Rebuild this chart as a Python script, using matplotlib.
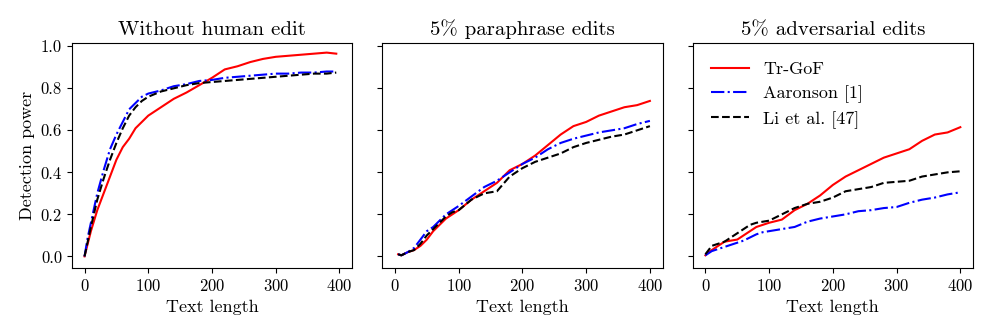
import matplotlib
matplotlib.use("Agg")
import matplotlib.pyplot as plt

plt.rcParams['font.family'] = ['cmr10', 'DejaVu Serif']
plt.rcParams['mathtext.fontset'] = 'cm'
plt.rcParams['axes.formatter.use_mathtext'] = True

titles = ["Without human edit", "5% paraphrase edits", "5% adversarial edits"]
labels = ["Tr-GoF", "Aaronson [1]", "Li et al. [47]"]

# Panel 1
x1 = [0, 5, 10, 20, 30, 40, 50, 60, 70, 80, 90, 100, 120, 140, 160, 180, 200, 220, 240, 260, 280, 300, 320, 340, 360, 380, 395]
red1 = [0, 0.06, 0.12, 0.22, 0.30, 0.38, 0.46, 0.52, 0.56, 0.61, 0.64, 0.67, 0.71, 0.75, 0.78, 0.815, 0.85, 0.89, 0.905, 0.925, 0.94, 0.95, 0.955, 0.96, 0.965, 0.97, 0.965]
blue1 = [0, 0.09, 0.16, 0.30, 0.41, 0.51, 0.58, 0.64, 0.70, 0.73, 0.76, 0.775, 0.79, 0.81, 0.82, 0.835, 0.84, 0.85, 0.855, 0.86, 0.865, 0.87, 0.87, 0.875, 0.875, 0.88, 0.88]
black1 = [0, 0.07, 0.14, 0.27, 0.37, 0.46, 0.54, 0.61, 0.67, 0.71, 0.74, 0.76, 0.785, 0.80, 0.815, 0.825, 0.83, 0.835, 0.84, 0.845, 0.85, 0.855, 0.86, 0.865, 0.87, 0.87, 0.875]

# Panel 2
x2 = [5, 10, 20, 30, 40, 50, 60, 70, 80, 90, 100, 120, 140, 160, 180, 200, 220, 240, 260, 280, 300, 320, 340, 360, 380, 400]
red2 = [0.01, 0.005, 0.02, 0.03, 0.05, 0.08, 0.12, 0.15, 0.18, 0.20, 0.22, 0.27, 0.31, 0.35, 0.41, 0.44, 0.48, 0.53, 0.58, 0.62, 0.64, 0.67, 0.69, 0.71, 0.72, 0.74]
blue2 = [0.01, 0.005, 0.02, 0.04, 0.08, 0.12, 0.14, 0.17, 0.20, 0.22, 0.24, 0.285, 0.33, 0.36, 0.40, 0.44, 0.47, 0.51, 0.54, 0.56, 0.575, 0.59, 0.60, 0.61, 0.63, 0.645]
black2 = [0.01, 0.005, 0.02, 0.03, 0.06, 0.10, 0.13, 0.16, 0.19, 0.21, 0.22, 0.27, 0.30, 0.31, 0.38, 0.42, 0.45, 0.47, 0.49, 0.52, 0.54, 0.555, 0.57, 0.58, 0.60, 0.62]

# Panel 3
x3 = [0, 5, 10, 20, 30, 40, 50, 60, 70, 80, 90, 100, 120, 140, 160, 180, 200, 220, 240, 260, 280, 300, 320, 340, 360, 380, 400]
red3 = [0.005, 0.02, 0.03, 0.05, 0.07, 0.075, 0.08, 0.10, 0.12, 0.14, 0.15, 0.16, 0.175, 0.22, 0.25, 0.29, 0.34, 0.38, 0.41, 0.44, 0.47, 0.49, 0.51, 0.55, 0.58, 0.59, 0.615]
blue3 = [0.005, 0.015, 0.025, 0.035, 0.045, 0.055, 0.065, 0.075, 0.09, 0.105, 0.115, 0.12, 0.13, 0.14, 0.165, 0.18, 0.19, 0.20, 0.215, 0.22, 0.23, 0.235, 0.255, 0.27, 0.28, 0.295, 0.305]
black3 = [0.01, 0.03, 0.05, 0.06, 0.07, 0.09, 0.11, 0.13, 0.15, 0.16, 0.165, 0.17, 0.20, 0.23, 0.25, 0.26, 0.28, 0.31, 0.32, 0.33, 0.35, 0.355, 0.36, 0.38, 0.39, 0.40, 0.405]

panels = [(x1, red1, blue1, black1), (x2, red2, blue2, black2), (x3, red3, blue3, black3)]

fig, axes = plt.subplots(1, 3, figsize=(9.97, 3.32), dpi=100, sharey=True)
fig.subplots_adjust(left=0.072, right=0.976, top=0.87, bottom=0.193, wspace=0.107)

for ax, title, (x, r, b, k) in zip(axes, titles, panels):
    ax.plot(x, r, color='red', linestyle='-', linewidth=1.5, label=labels[0])
    ax.plot(x, b, color='blue', linestyle='-.', linewidth=1.5, label=labels[1])
    ax.plot(x, k, color='black', linestyle='--', linewidth=1.5, label=labels[2])
    ax.set_title(title, fontsize=15)
    ax.set_xlabel("Text length", fontsize=13)
    ax.set_xlim(-20, 420)
    ax.set_ylim(-0.055, 1.015)
    ax.set_xticks([0, 100, 200, 300, 400])
    ax.set_yticks([0.0, 0.2, 0.4, 0.6, 0.8, 1.0])
    ax.tick_params(labelsize=12)

axes[0].set_ylabel("Detection power", fontsize=13)
axes[0].set_yticklabels(["0.0", "0.2", "0.4", "0.6", "0.8", "1.0"])
axes[2].legend(loc='upper left', frameon=False, fontsize=13, handlelength=2.1,
               labelspacing=0.45, borderaxespad=0.6)

fig.savefig("out.png", dpi=100)
